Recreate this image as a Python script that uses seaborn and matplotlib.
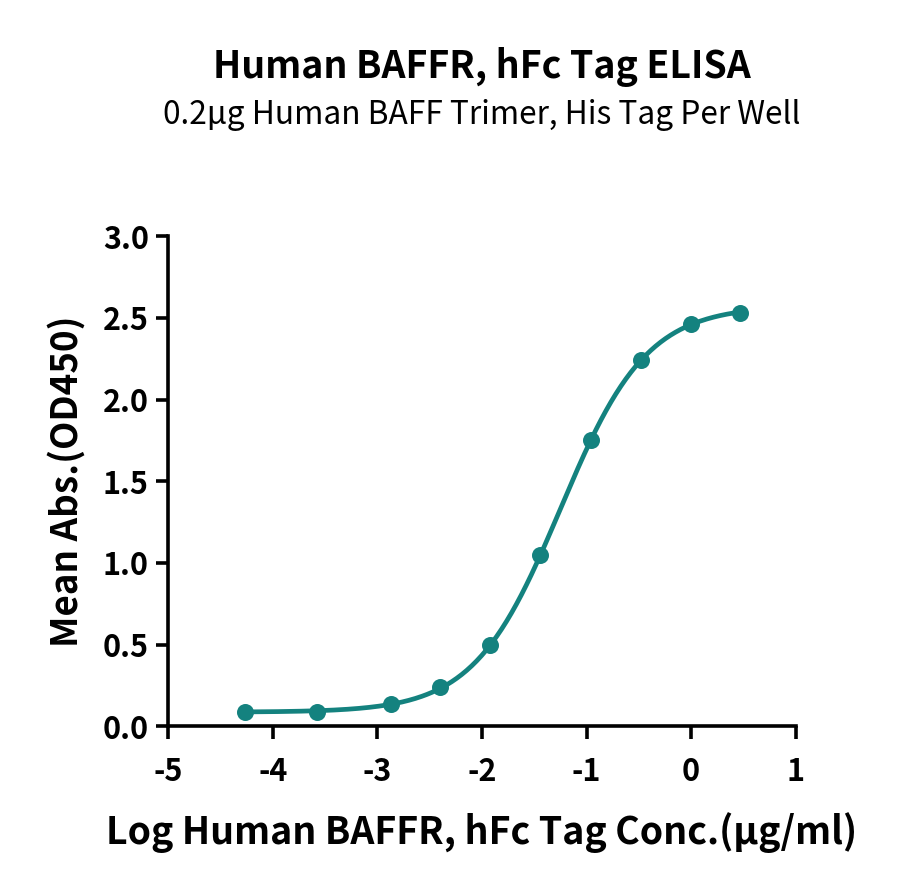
import numpy as np
import pandas as pd
import matplotlib
matplotlib.use("Agg")
import matplotlib.pyplot as plt
import seaborn as sns

# --- data ---
log_conc = [-4.27, -3.58, -2.87, -2.40, -1.92, -1.44, -0.96, -0.48, 0.00, 0.47]
mean_abs = [0.085, 0.090, 0.135, 0.240, 0.500, 1.050, 1.750, 2.245, 2.460, 2.530]

title = "Human BAFFR, hFc Tag ELISA"
subtitle = "0.2μg Human BAFF Trimer, His Tag Per Well"
xlabel = "Log Human BAFFR, hFc Tag Conc.(μg/ml)"
ylabel = "Mean Abs.(OD450)"
x_ticks = [-5, -4, -3, -2, -1, 0, 1]
y_ticks = [0.0, 0.5, 1.0, 1.5, 2.0, 2.5, 3.0]

teal = "#14827f"

df = pd.DataFrame({"x": log_conc, "y": mean_abs})

# 4PL fit: grid over logEC50 and hill, linear solve for bottom/top
x = np.array(log_conc)
y = np.array(mean_abs)
best = None
for c in np.linspace(-2.5, 0.0, 251):
    for h in np.linspace(0.5, 2.5, 201):
        f = 1.0 / (1.0 + 10 ** ((c - x) * h))
        A = np.column_stack([np.ones_like(f), f])
        coef, *_ = np.linalg.lstsq(A, y, rcond=None)
        err = np.sum((A @ coef - y) ** 2)
        if best is None or err < best[0]:
            best = (err, c, h, coef)
_, c, h, coef = best
xf = np.linspace(x.min(), x.max(), 300)
fit = pd.DataFrame({"x": xf, "y": coef[0] + coef[1] / (1.0 + 10 ** ((c - xf) * h))})

sns.set_style("ticks")
plt.rcParams["font.family"] = ["Noto Sans CJK SC", "DejaVu Sans"]
plt.rcParams["text.color"] = "black"
plt.rcParams["axes.labelcolor"] = "black"
plt.rcParams["xtick.color"] = "black"
plt.rcParams["ytick.color"] = "black"

fig = plt.figure(figsize=(9, 8.88), dpi=100)
ax = fig.add_axes([0.187, 0.182, 0.697, 0.552])

sns.lineplot(data=fit, x="x", y="y", color=teal, linewidth=3.4, ax=ax)
sns.scatterplot(data=df, x="x", y="y", color=teal, s=150, edgecolor=teal, linewidth=0, ax=ax, zorder=3)

ax.set_xlim(-5, 1)
ax.set_ylim(0, 3)
ax.set_xticks(x_ticks)
ax.set_yticks(y_ticks)
ax.set_xticklabels([str(t) for t in x_ticks])
ax.set_yticklabels([f"{t:.1f}" for t in y_ticks])
for s in ["top", "right"]:
    ax.spines[s].set_visible(False)
for s in ["left", "bottom"]:
    ax.spines[s].set_linewidth(2.6)
    ax.spines[s].set_color("black")
ax.tick_params(axis="both", width=2.6, length=9, labelsize=22, color="black", labelcolor="black")
ax.tick_params(axis="x", pad=12)
ax.tick_params(axis="y", pad=5)
for lab in ax.get_xticklabels() + ax.get_yticklabels():
    lab.set_fontweight("black")

ax.set_xlabel(xlabel, fontsize=27, fontweight="black", labelpad=18)
ax.set_ylabel(ylabel, fontsize=26.5, fontweight="black", labelpad=12)

fig.text(0.535, 0.925, title, ha="center", va="center", fontsize=27, fontweight="black")
fig.text(0.535, 0.870, subtitle, ha="center", va="center", fontsize=22.8)

fig.savefig("out.png", dpi=100, facecolor="white")
